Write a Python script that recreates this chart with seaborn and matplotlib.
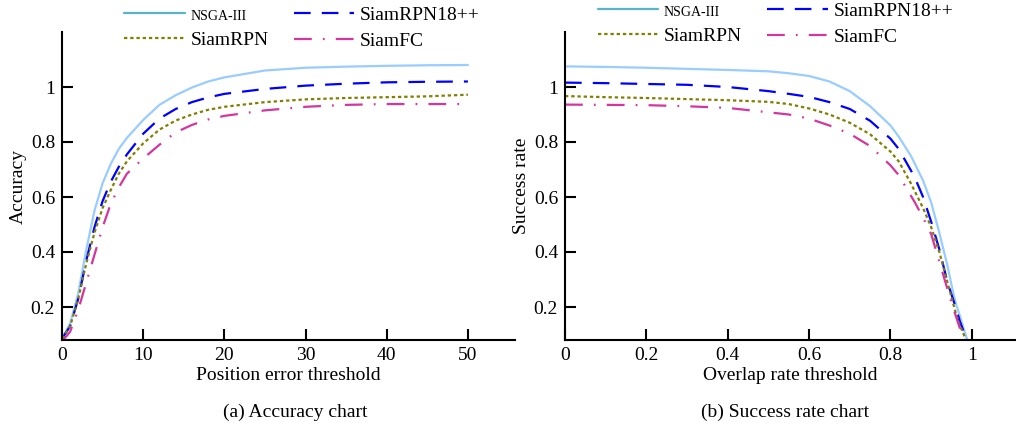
import numpy as np
import pandas as pd
import seaborn as sns
import matplotlib.pyplot as plt
from matplotlib.lines import Line2D

# (a) accuracy vs position error threshold
pos_thr = [0, 1, 2, 3, 4, 5, 6, 7, 8, 10, 12, 14, 16, 18, 20, 25, 30, 35, 40, 45, 50]
acc_nsga = [0.085, 0.14, 0.25, 0.41, 0.55, 0.65, 0.72, 0.775, 0.815, 0.88, 0.935, 0.97,
            0.998, 1.02, 1.035, 1.06, 1.07, 1.074, 1.077, 1.079, 1.08]
acc_rpn18 = [0.085, 0.13, 0.23, 0.37, 0.49, 0.585, 0.655, 0.71, 0.755, 0.83, 0.885, 0.92,
             0.945, 0.962, 0.975, 0.993, 1.005, 1.012, 1.017, 1.019, 1.02]
acc_rpn = [0.085, 0.13, 0.23, 0.36, 0.47, 0.56, 0.625, 0.685, 0.73, 0.795, 0.845, 0.878,
           0.9, 0.917, 0.928, 0.945, 0.955, 0.96, 0.963, 0.966, 0.972]
acc_fc = [0.075, 0.11, 0.19, 0.29, 0.39, 0.49, 0.575, 0.635, 0.685, 0.74, 0.79, 0.835,
          0.862, 0.882, 0.895, 0.915, 0.928, 0.935, 0.938, 0.938, 0.938]

# (b) success rate vs overlap threshold
ovl_thr = [0, 0.1, 0.2, 0.3, 0.4, 0.5, 0.55, 0.6, 0.65, 0.7, 0.75, 0.8, 0.82, 0.85, 0.86,
           0.88, 0.9, 0.92, 0.94, 0.95, 0.96, 0.97, 0.98, 0.99]
suc_nsga = [1.075, 1.073, 1.07, 1.066, 1.062, 1.057, 1.05, 1.04, 1.02, 0.985, 0.93, 0.86,
            0.82, 0.75, 0.72, 0.66, 0.58, 0.47, 0.35, 0.28, 0.215, 0.17, 0.12, 0.075]
suc_rpn18 = [1.016, 1.014, 1.011, 1.008, 1.0, 0.985, 0.975, 0.964, 0.945, 0.92, 0.877, 0.812,
             0.775, 0.697, 0.67, 0.6, 0.51, 0.41, 0.29, 0.245, 0.2, 0.15, 0.11, 0.07]
suc_rpn = [0.967, 0.963, 0.96, 0.956, 0.952, 0.946, 0.938, 0.922, 0.9, 0.87, 0.828, 0.765,
           0.73, 0.65, 0.62, 0.56, 0.49, 0.4, 0.29, 0.235, 0.18, 0.135, 0.1, 0.06]
suc_fc = [0.936, 0.935, 0.934, 0.93, 0.924, 0.908, 0.9, 0.885, 0.86, 0.83, 0.785, 0.715,
          0.68, 0.605, 0.58, 0.525, 0.465, 0.365, 0.265, 0.215, 0.17, 0.125, 0.085, 0.05]

methods = ['NSGA-III', 'SiamRPN18++', 'SiamRPN', 'SiamFC']
colors = {'NSGA-III': '#99ccff', 'SiamRPN18++': '#0000ff',
          'SiamRPN': '#808000', 'SiamFC': '#d4369c'}
dashes = {'NSGA-III': '', 'SiamRPN18++': (7.5, 5),
          'SiamRPN': (1.5, 1.3), 'SiamFC': (8, 5, 0.8, 5)}


def long_frame(x, series):
    rows = []
    for name, vals in zip(methods, series):
        for xv, yv in zip(x, vals):
            rows.append({'x': xv, 'y': yv, 'method': name})
    return pd.DataFrame(rows)


def style_axis(ax, xlim, xticks, xticklabels):
    ax.set_xlim(*xlim)
    ax.set_ylim(0.08, 1.2)
    ax.set_xticks(xticks)
    ax.set_xticklabels(xticklabels)
    ax.set_yticks([0.2, 0.4, 0.6, 0.8, 1.0])
    ax.set_yticklabels(['0.2', '0.4', '0.6', '0.8', '1'])
    sns.despine(ax=ax)
    for s in ['left', 'bottom']:
        ax.spines[s].set_linewidth(1.5)
    ax.tick_params(direction='in', length=8, width=1.5, labelsize=14, pad=5)


def add_legend(ax, anchor):
    h = {m: Line2D([], [], color=colors[m], lw=1.6, dashes=dashes[m] if dashes[m] else (None, None))
         for m in methods}
    h['NSGA-III'] = Line2D([], [], color='#5ab4c8', lw=1.6)
    order = ['NSGA-III', 'SiamRPN', 'SiamRPN18++', 'SiamFC']
    leg = ax.legend([h[m] for m in order], order, ncol=2, loc='center',
                    bbox_to_anchor=anchor, frameon=False, fontsize=14,
                    handlelength=3.1, handletextpad=0.3, columnspacing=1.3,
                    labelspacing=0.45, borderaxespad=0)
    leg.get_texts()[0].set_fontsize(10)


sns.set_style('ticks')
plt.rcParams['font.family'] = ['Liberation Serif', 'DejaVu Serif']
plt.rcParams.update({'text.color': 'black', 'axes.labelcolor': 'black',
                     'xtick.color': 'black', 'ytick.color': 'black',
                     'axes.edgecolor': 'black'})

fig = plt.figure(figsize=(10.16, 4.28), dpi=100)
ax1 = fig.add_axes([62 / 1016, 88 / 428, 453 / 1016, 308 / 428])
ax2 = fig.add_axes([565 / 1016, 88 / 428, 450 / 1016, 308 / 428])

df_a = long_frame(pos_thr, [acc_nsga, acc_rpn18, acc_rpn, acc_fc])
df_b = long_frame(ovl_thr, [suc_nsga, suc_rpn18, suc_rpn, suc_fc])

for ax, df in [(ax1, df_a), (ax2, df_b)]:
    sns.lineplot(data=df, x='x', y='y', hue='method', style='method',
                 palette=colors, dashes=dashes, hue_order=methods,
                 style_order=methods, linewidth=1.6, ax=ax, legend=False)

style_axis(ax1, (0, 55.8), [0, 10, 20, 30, 40, 50], ['0', '10', '20', '30', '40', '50'])
style_axis(ax2, (0, 1.106), [0, 0.2, 0.4, 0.6, 0.8, 1.0], ['0', '0.2', '0.4', '0.6', '0.8', '1'])

ax1.set_xlabel('Position error threshold', fontsize=14, labelpad=2)
ax1.set_ylabel('Accuracy', fontsize=14, labelpad=3)
ax2.set_xlabel('Overlap rate threshold', fontsize=14, labelpad=2)
ax2.set_ylabel('Success rate', fontsize=14, labelpad=3)

add_legend(ax1, (0.53, 1.013))
add_legend(ax2, (0.468, 1.026))

fig.text(295 / 1016, 1 - 412 / 428, '(a) Accuracy chart', fontsize=14, ha='center', va='center')
fig.text(785 / 1016, 1 - 412 / 428, '(b) Success rate chart', fontsize=14, ha='center', va='center')

fig.savefig('out.png', dpi=100)
